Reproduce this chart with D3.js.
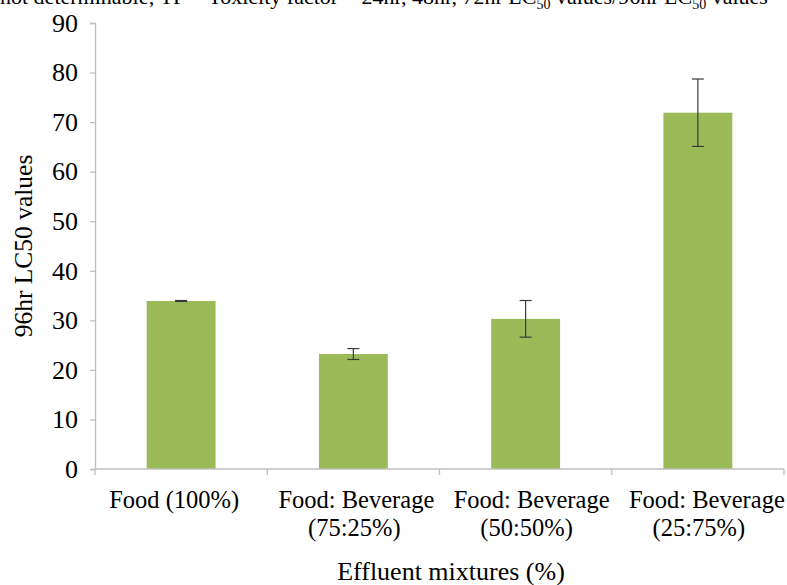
<!DOCTYPE html>
<html><head><meta charset="utf-8">
<script src="https://cdn.jsdelivr.net/npm/d3@7"></script>
<style>body{margin:0;background:#fff;} svg{display:block;} svg text{font-family:"Liberation Serif","Times New Roman",serif;}</style>
</head><body>
<svg id="c" width="787" height="585"></svg>
<script>
const categories = ["Food (100%)", "Food: Beverage|(75:25%)", "Food: Beverage|(50:50%)", "Food: Beverage|(25:75%)"];
const values = [33.9, 23.2, 30.3, 71.9];
const errors = [0.1, 1.1, 3.7, 6.8];
const yTicks = [0,10,20,30,40,50,60,70,80,90];

const FF = "Liberation Serif";
const svg = d3.select("#c");
const m = {l:95, r:3, t:23, b:116};
const W = 787, H = 585;
const x = d3.scaleBand().domain(categories).range([m.l, W-m.r]).paddingInner(0.6).paddingOuter(0.3);
const y = d3.scaleLinear().domain([0,90]).range([H-m.b, m.t]);

// cropped header text
const hdr = svg.append("text").attr("x", 0).attr("y", 4).attr("font-size", 22).attr("font-family",FF).attr("fill","#000");
hdr.append("tspan").text("not determinable; TF = Toxicity factor = 24hr, 48hr, 72hr LC");
hdr.append("tspan").attr("font-size",14).attr("dy",5).text("50");
hdr.append("tspan").attr("dy",-5).text(" values/96hr LC");
hdr.append("tspan").attr("font-size",14).attr("dy",5).text("50");
hdr.append("tspan").attr("dy",-5).text(" values");

// bars
svg.selectAll("rect.bar").data(values).join("rect")
  .attr("x",(d,i)=>x(categories[i])).attr("width",x.bandwidth())
  .attr("y",d=>y(d)).attr("height",d=>y(0)-y(d))
  .attr("fill","#9BBB59");

// error bars
const eg = svg.append("g").attr("stroke","#3a3a3a").attr("stroke-width",1.2);
values.forEach((v,i)=>{
  const cx = x(categories[i]) + x.bandwidth()/2;
  eg.append("line").attr("x1",cx).attr("x2",cx).attr("y1",y(v+errors[i])).attr("y2",y(v-errors[i]));
  eg.append("line").attr("x1",cx-6).attr("x2",cx+6).attr("y1",y(v+errors[i])).attr("y2",y(v+errors[i]));
  eg.append("line").attr("x1",cx-6).attr("x2",cx+6).attr("y1",y(v-errors[i])).attr("y2",y(v-errors[i]));
});

// y axis
const ya = svg.append("g").attr("transform",`translate(${m.l},0)`)
  .call(d3.axisLeft(y).tickValues(yTicks).tickSize(5).tickPadding(12).tickFormat(d3.format("d")));
ya.attr("font-family",FF);
ya.select(".domain").attr("stroke","#BFBFBF").attr("stroke-width",1.3);
ya.selectAll(".tick line").attr("stroke","#BFBFBF").attr("stroke-width",1.3);
ya.selectAll(".tick text").attr("font-size",26).attr("fill","#000").attr("font-family",FF);

// x axis
const xa = svg.append("g").attr("transform",`translate(0,${y(0)})`);
xa.append("line").attr("x1",m.l).attr("x2",W-m.r).attr("stroke","#BFBFBF").attr("stroke-width",1.3);
const bounds = d3.range(categories.length+1).map(i=> m.l + i*(W-m.r-m.l)/categories.length);
xa.selectAll("line.t").data(bounds).join("line").attr("x1",d=>d).attr("x2",d=>d).attr("y1",0).attr("y2",6)
  .attr("stroke","#BFBFBF").attr("stroke-width",1.3);
categories.forEach((c,i)=>{
  const cx = x(c)+x.bandwidth()/2;
  const lines = c.split("|");
  const t = xa.append("text").attr("text-anchor","middle").attr("font-size",24.5).attr("font-family",FF).attr("fill","#000");
  lines.forEach((ln,j)=>{
    // first line of wrapped labels sits a bit right (as in the source), single-line label a bit left
    const dx = lines.length === 1 ? -7 : (j === 0 ? 3 + 3*(i-1) : 1);
    t.append("tspan").attr("x",cx+dx).attr("y",39+j*28).text(ln);
  });
});

// axis titles
svg.append("text").attr("x",451).attr("y",580).attr("text-anchor","middle").attr("font-size",26).attr("font-family",FF).text("Effluent mixtures (%)");
svg.append("text").attr("transform","translate(32,246) rotate(-90)").attr("text-anchor","middle").attr("font-size",25.5).attr("font-family",FF).text("96hr LC50 values");
</script>
</body></html>
